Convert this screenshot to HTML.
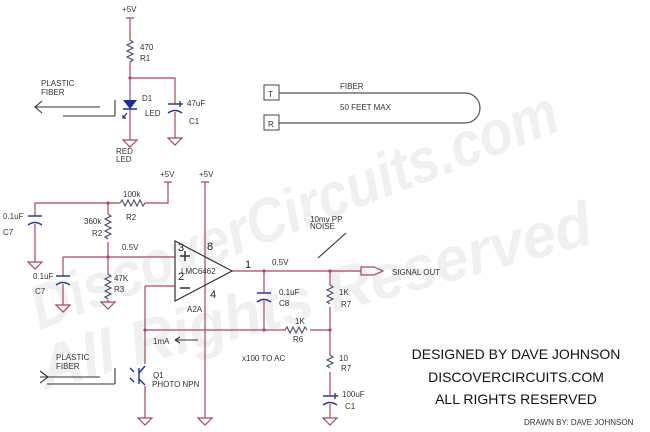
<!DOCTYPE html>
<html><head><style>
html,body{margin:0;padding:0;background:#fff;width:650px;height:432px;overflow:hidden;}
svg{display:block;}
text{font-family:"Liberation Sans",sans-serif;}
</style></head><body>
<svg width="650" height="432" viewBox="0 0 650 432" xmlns="http://www.w3.org/2000/svg" overflow="hidden">
<!-- watermark -->
<g fill="#f0f0f0" font-weight="bold" font-style="italic">
<text x="40" y="330" font-size="62" textLength="560" lengthAdjust="spacingAndGlyphs" transform="rotate(-21 40 330)">DiscoverCircuits.com</text>
<text x="45" y="390" font-size="62" textLength="570" lengthAdjust="spacingAndGlyphs" transform="rotate(-15 45 390)">All Rights Reserved</text>
</g>
<g stroke="#a8485e" stroke-width="1.2" fill="none">
<path d="M126 18H134 M130 18V40 M130 62V140 M130 78H175V104 M175 112V138"/>
<path d="M123 140H137L130 147Z M168 138H182L175 145Z"/>
<path d="M279 93H465A15 15 0 0 1 465 123H279" stroke="#555"/>
<path d="M164 182H172 M168 182V203H145 M120 203H35V216 M35 224V262"/>
<path d="M201 182H209 M205 182V418"/>
<path d="M108 203V214 M108 242V274 M108 300V302"/>
<path d="M63 257H175 M63 257V276 M63 284V305"/>
<path d="M145 286H175 M145 286V364 M145 386V418"/>
<path d="M232 271H361 M264 271V293 M264 301V330 M330 271V285 M330 307V355 M330 372V396 M330 404V418"/>
<path d="M145 330H285 M310 330H330"/>
<path d="M28 262H42L35 269Z M101 302H115L108 309Z M56 305H70L63 312Z M138 418H152L145 425Z M198 418H212L205 425Z M323 418H337L330 425Z"/>
<path d="M361 267H374L383 271L374 275H361Z"/>
</g>
<g fill="#a8485e">
<circle cx="130" cy="78" r="1.6"/><circle cx="108" cy="203" r="1.6"/><circle cx="108" cy="257" r="1.6"/>
<circle cx="264" cy="271" r="1.6"/><circle cx="330" cy="271" r="1.6"/><circle cx="264" cy="330" r="1.6"/>
<circle cx="330" cy="330" r="1.6"/><circle cx="145" cy="330" r="1.6"/>
</g>
<g stroke="#4a4a6a" stroke-width="1.1" fill="none">
<path d="M130 40l3 2-6 3 6 3-6 3 6 3-6 3 6 3-3 2"/>
<path d="M120 203l2-3 3 6 3-6 3 6 3-6 3 6 3-6 3 6 2-3"/>
<path d="M108 214l3 2-6 3 6 3-6 3 6 3-6 3 6 3-6 3 3 2"/>
<path d="M108 274l3 2-6 3 6 3-6 3 6 3-6 3 6 3-6 3 3 2"/>
<path d="M330 285l3 2-6 3 6 3-6 3 6 3-6 3 3 2"/>
<path d="M285 330l2-3 3 6 3-6 3 6 3-6 3 6 3-6 2 3"/>
<path d="M330 355l3 2-6 3 6 3-6 3 3 2"/>
<path d="M175 241V301L232 271Z" stroke="#333" stroke-width="1.2"/>
<path d="M180 256h10M185 251v10M180 288h10" stroke="#333" stroke-width="1.5"/>
<path d="M35 107H100 M63 116H115 M115 100V116 M42 101L35 107L42 113" stroke="#333"/>
<path d="M40 377H100 M47 384H115 M115 368V384 M40 371L48 377L40 383" stroke="#333"/>
<path d="M175 340H198 M175 340l5-3M175 340l5 3" stroke="#333"/>
<path d="M318 258L346 233" stroke="#333"/>
</g>
<g stroke="#2a3a9a" stroke-width="1.4" fill="none">
<path d="M168 104h14 M168 113q7-5 14 0 M180 101v6M177 104h6"/>
<path d="M28 216h14 M28 225q7-5 14 0"/>
<path d="M56 276h14 M56 285q7-5 14 0"/>
<path d="M257 293h14 M257 302q7-5 14 0"/>
<path d="M323 396h14 M323 405q7-5 14 0 M335 393v6M332 396h6"/>
</g>
<path d="M123 100h14l-7 9z" fill="#1a2aa0"/>
<path d="M123 109h14" stroke="#1a2aa0" stroke-width="1.5"/>
<path d="M127 113l-4 5M123 115v3h3" stroke="#1a2aa0" stroke-width="1.2" fill="none"/>
<rect x="264" y="85" width="15" height="15" fill="#fff" stroke="#444"/>
<rect x="264" y="115" width="15" height="15" fill="#fff" stroke="#444"/>
<g stroke="#1a2aa0" stroke-width="1.4" fill="none">
<path d="M139 368v16 M139 373l6-7 M139 379l6 6 M130 368l4 4M130 378l4 4"/>
</g>
<g font-size="8" fill="#333">
<text x="122" y="12">+5V</text>
<text x="140" y="50">470</text><text x="140" y="61">R1</text>
<text x="41" y="86">PLASTIC</text><text x="41" y="95">FIBER</text>
<text x="142" y="101">D1</text><text x="145" y="116">LED</text>
<text x="187" y="106">47uF</text><text x="189" y="124">C1</text>
<text x="116" y="154">RED</text><text x="116" y="162">LED</text>
<text x="268" y="97">T</text><text x="268" y="127">R</text>
<text x="340" y="89">FIBER</text><text x="340" y="110">50 FEET MAX</text>
<text x="160" y="177">+5V</text><text x="199" y="177">+5V</text>
<text x="123" y="197">100k</text><text x="126" y="220">R2</text>
<text x="3" y="219">0.1uF</text><text x="3" y="235">C7</text>
<text x="84" y="224">360k</text><text x="92" y="236">R2</text>
<text x="122" y="250">0.5V</text>
<text x="33" y="279">0.1uF</text><text x="35" y="294">C7</text>
<text x="114" y="281">47K</text><text x="114" y="292">R3</text>
<text x="181" y="274">LMC6462</text>
<text x="187" y="312">A2A</text>
<text x="272" y="265">0.5V</text>
<text x="310" y="222">10mv PP</text><text x="310" y="229">NOISE</text>
<text x="392" y="275">SIGNAL OUT</text>
<text x="279" y="295">0.1uF</text><text x="279" y="306">C8</text>
<text x="339" y="295">1K</text><text x="341" y="307">R7</text>
<text x="295" y="324">1K</text><text x="293" y="342">R6</text>
<text x="153" y="344">1mA</text>
<text x="242" y="361">x100 TO AC</text>
<text x="339" y="361">10</text><text x="341" y="371">R7</text>
<text x="342" y="397">100uF</text><text x="345" y="409">C1</text>
<text x="56" y="360">PLASTIC</text><text x="56" y="369">FIBER</text>
<text x="153" y="378">Q1</text><text x="152" y="387">PHOTO NPN</text>
<text x="524" y="425">DRAWN BY: DAVE JOHNSON</text>
</g>
<g font-size="11" fill="#222">
<text x="178" y="251">3</text><text x="207" y="250">8</text>
<text x="178" y="280">2</text><text x="210" y="298">4</text>
<text x="245" y="268">1</text>
</g>
<g font-size="14" fill="#111" text-anchor="middle">
<text x="516" y="359">DESIGNED BY DAVE JOHNSON</text>
<text x="516" y="382">DISCOVERCIRCUITS.COM</text>
<text x="516" y="404">ALL RIGHTS RESERVED</text>
</g>
</svg>
</body></html>
